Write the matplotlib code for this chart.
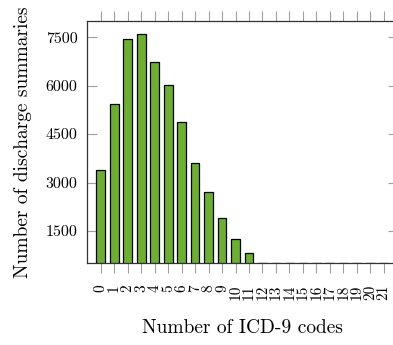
import numpy as np
import matplotlib
matplotlib.use('Agg')
import matplotlib.pyplot as plt

plt.rcParams['font.family'] = ['cmr10', 'DejaVu Serif']
plt.rcParams['axes.formatter.use_mathtext'] = True

# number of ICD-9 codes per summary -> number of discharge summaries
codes = list(range(22))
summaries = [3380, 5420, 7450, 7600, 6720, 6010, 4880, 3620, 2720, 1890, 1240, 830,
             300, 150, 80, 40, 20, 10, 5, 3, 2, 1]
y_ticks = [1500, 3000, 4500, 6000, 7500]
y_min, y_max = 500, 8000

fig = plt.figure(figsize=(3.93, 3.45), dpi=100)
ax = fig.add_axes([86.5 / 393, 1 - 263.3 / 345, (398 - 86.5) / 393, (263.3 - 21) / 345])

vals = np.array(summaries, dtype=float)
# bars start at the lower axis limit (as in the original), small ones collapse to a line
ax.bar(codes, np.maximum(vals - y_min, 0), bottom=y_min, width=0.65,
       color='#6cb030', edgecolor='black', linewidth=0.9, zorder=3)

ax.set_xlim(-1.06, 22.06)
ax.set_ylim(y_min, y_max)
ax.set_xticks(codes)
ax.set_xticklabels([str(c) for c in codes], rotation=90, fontsize=11)
ax.set_yticks(y_ticks)
ax.set_yticklabels([str(t) for t in y_ticks], fontsize=11.5)

ax.tick_params(axis='x', which='both', direction='out', length=7, width=0.8,
               color='#a0a0a0', top=True, bottom=True, pad=8)
ax.tick_params(axis='y', which='both', direction='in', length=7.5, width=0.8,
               color='#a0a0a0', left=True, right=True, pad=6.5)

for s in ax.spines.values():
    s.set_color('#333333')
    s.set_linewidth(0.9)

ax.set_xlabel('Number of ICD-9 codes', fontsize=14, labelpad=14)
ax.set_ylabel('Number of discharge summaries', fontsize=14, labelpad=10)

fig.savefig('out.png', dpi=100)
